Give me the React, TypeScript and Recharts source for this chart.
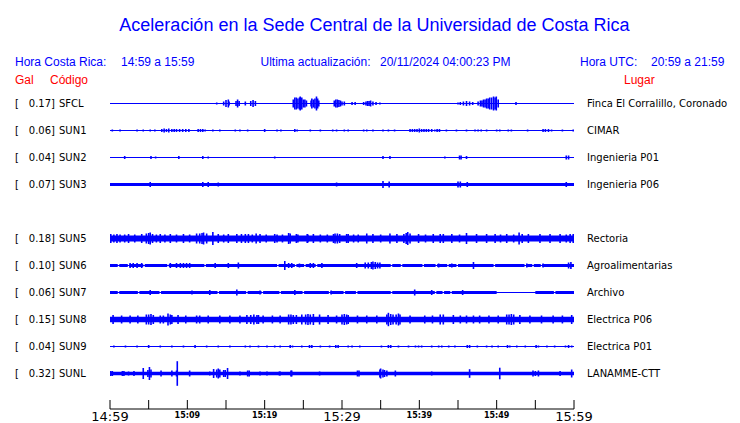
import React from "react";
import { ComposedChart, Area, Scatter, ErrorBar, XAxis, YAxis } from "recharts";

// stations, top to bottom (slot 4 = SUN4 is empty)
const codes = ["SFCL", "SUN1", "SUN2", "SUN3", "SUN5", "SUN6", "SUN7", "SUN8", "SUN9", "SUNL"];
const slots = [0, 1, 2, 3, 5, 6, 7, 8, 9, 10];
const gal = [0.17, 0.06, 0.04, 0.07, 0.18, 0.1, 0.06, 0.15, 0.04, 0.32];
const places = [
  "Finca El Corralillo, Coronado",
  "CIMAR",
  "Ingenieria P01",
  "Ingenieria P06",
  "Rectoria",
  "Agroalimentarias",
  "Archivo",
  "Electrica P06",
  "Electrica P01",
  "LANAMME-CTT",
];
// background noise half-amplitude of each trace
const noise = [0.5, 0.5, 0.5, 1.5, 3, 1.5, 1.5, 2.8, 0.5, 1.8];

// time axis: minutes after 14:59
const minuteTicks = [0, 5, 10, 15, 20, 25, 30, 35, 40, 45, 50, 55, 60];
const tickLabels = ["14:59", "15:09", "15:19", "15:29", "15:39", "15:49", "15:59"];
const bigLabels = ["14:59", "15:29", "15:59"];

// [minute, half amplitude]
const spikesSFCL = [
  [13.8, 1], [14.7, 2], [15.0, 3.5], [15.3, 4], [15.4, 2],
  [16.3, 2.5], [16.5, 4], [16.7, 2.5], [17.5, 2],
  [18.2, 2.5], [18.5, 3.5], [18.8, 2.5],
  [23.7, 4], [23.9, 6], [24.1, 6], [24.3, 5], [24.5, 6], [24.6, 7], [24.8, 6], [25.0, 4], [25.2, 4], [25.4, 3],
  [26.0, 3], [26.1, 5], [26.3, 4], [26.5, 5], [26.7, 7], [26.85, 5], [27.0, 3],
  [29.0, 3], [29.2, 4], [29.4, 4], [29.6, 3.5], [29.8, 3], [30.0, 2], [30.3, 2],
  [31.3, 1.5], [31.7, 1.5],
  [32.8, 1.5], [33.1, 2], [33.3, 2.5], [33.5, 2.5], [33.7, 3], [34.0, 2], [34.4, 1.5], [34.9, 1],
  [45.0, 1], [45.3, 1.5], [45.7, 2], [46.1, 2.5], [46.5, 2], [46.9, 1.5],
  [47.6, 2], [47.9, 3], [48.1, 3], [48.3, 4], [48.5, 4], [48.7, 5], [48.9, 5], [49.1, 6], [49.35, 6],
  [49.6, 7], [49.8, 6], [49.95, 7], [50.2, 4],
  [52.5, 1.5],
];
const spikesSUN1 = [
  [0.3, 1], [1.3, 1], [3.5, 1], [4.3, 1], [5.2, 1], [5.8, 1],
  [6.7, 1.5], [7.0, 2], [7.3, 1.5], [7.6, 2], [8.0, 1.5], [8.3, 1.5], [8.6, 1.5], [9.0, 1.5], [9.4, 1.5], [9.8, 1.5], [10.2, 1.5],
  [11.4, 1.5], [11.7, 1.5], [12.0, 1.5], [12.3, 1],
  [13.3, 1], [14.2, 1], [16.2, 1], [16.8, 1], [17.8, 1],
  [20.0, 1.5], [21.6, 1], [22.1, 1], [23.9, 1.5], [24.2, 1], [25.9, 1], [27.2, 1], [28.8, 1], [29.3, 1], [30.3, 1], [30.8, 1],
  [32.8, 1], [33.2, 1], [34.0, 1], [35.3, 1], [36.0, 1], [36.8, 1],
  [38.8, 1.5], [39.1, 1.5], [39.4, 1.5], [39.7, 1.5], [40.0, 2], [40.3, 1.5], [40.6, 1.5], [40.9, 1.5],
  [41.2, 1.5], [41.6, 1.5], [42.0, 1], [42.3, 1.5], [42.6, 1.5], [43.5, 1], [44.8, 1], [46.1, 1],
  [47.2, 1], [47.6, 1], [48.0, 1], [48.7, 1], [50.0, 1], [50.4, 1], [51.5, 1], [51.9, 1], [54.0, 1],
  [56.0, 1.5], [56.3, 1.5], [56.7, 1.5], [57.1, 1], [58.5, 1], [59.9, 1],
];
const spikesSUN2 = [
  [1.9, 1.5], [5.3, 1.5], [5.9, 1], [8.9, 1.5], [12.0, 1.5], [12.7, 1], [21.3, 1],
  [35.3, 1.5], [36.2, 1.5], [43.3, 1], [45.2, 2], [45.4, 2], [46.1, 1.5], [59.0, 2], [59.3, 2],
];
const spikesSUN3 = [
  [5.2, 2.5], [12.0, 2.5], [12.7, 2.5], [14.0, 2], [29.3, 2], [35.3, 3.5], [36.1, 3],
  [45.0, 3], [45.3, 3], [46.2, 2.5], [59.0, 2.5],
];
const spikesSUN5 = [
  [0.1, 4.5], [0.5, 4], [0.9, 4.5], [1.3, 4], [1.9, 4], [2.4, 4.5], [3.2, 4], [4.1, 4.5], [4.7, 5], [5.0, 5.5],
  [5.2, 6], [5.5, 4.5], [6.0, 4], [6.5, 4.5], [7.1, 4], [7.8, 4.5], [8.6, 4], [9.5, 4.5], [10.3, 4], [11.2, 5],
  [11.6, 5], [11.9, 5.5], [12.1, 6], [12.5, 5], [13.3, 6.5], [14.0, 4.5], [14.7, 4], [15.3, 4.5], [16.4, 4.5],
  [17.0, 4.5], [17.5, 4.5], [17.9, 4.5], [18.4, 4], [18.9, 5], [19.4, 4.5], [20.2, 4], [21.3, 4.5], [21.6, 4],
  [22.3, 4], [23.1, 5.5], [23.3, 5], [24.1, 4.5], [24.3, 4], [25.5, 4.5], [25.6, 4], [26.3, 4.5], [27.2, 4],
  [28.1, 4], [28.9, 4.5], [29.1, 5], [29.4, 5], [29.7, 4.5], [30.6, 4.5], [30.8, 4.5], [31.5, 4], [32.1, 4],
  [33.2, 5], [34.0, 4.5], [35.0, 4], [36.2, 5], [37.1, 4.5], [38.0, 4.5], [38.3, 5.5], [38.5, 6.5], [38.8, 5],
  [39.9, 4.5], [40.8, 4], [41.8, 4.5], [42.7, 4.5], [43.1, 4.5], [44.2, 4.5], [45.2, 4], [46.1, 5.5], [47.4, 4.5],
  [48.7, 4.5], [49.8, 4.5], [50.5, 4], [51.3, 4.5], [52.2, 4], [52.9, 6], [53.3, 4.5], [54.1, 4.5], [55.6, 4.5],
  [56.9, 4.5], [58.2, 4.5], [59.0, 4], [59.5, 4.5], [59.9, 4.5],
];
const spikesSUN6 = [
  [2.6, 2.5], [3.0, 2.5], [3.5, 2.5], [4.1, 2.5], [7.8, 2.5], [8.6, 2.5], [9.1, 2.5], [9.5, 2.5], [9.9, 2.5],
  [10.3, 2.5], [13.6, 2.5], [15.3, 2.5], [16.6, 3], [22.6, 4.5], [23.1, 2.5], [23.5, 2.5], [24.5, 2], [25.9, 2.5],
  [26.3, 2.5], [27.4, 2.5], [31.9, 2.5], [33.0, 3], [33.4, 3], [33.8, 3.5], [34.0, 4], [34.3, 3.5], [34.6, 3],
  [34.9, 3], [42.5, 2], [44.2, 2], [47.0, 3.5], [53.9, 2], [56.0, 2], [59.3, 3], [59.6, 3.5],
];
const spikesSUN7 = [
  [5.2, 2.5], [10.6, 2], [12.9, 2.5], [16.4, 3], [19.4, 2], [23.9, 2.5], [28.6, 2], [39.4, 3], [41.6, 2.5], [45.6, 2.5],
];
const spikesSUN8 = [
  [0.4, 4.5], [1.5, 4], [2.6, 4], [3.6, 4], [4.7, 5], [5.0, 5], [5.3, 5.5], [5.6, 4.5], [6.5, 4], [6.9, 4],
  [7.5, 6], [7.8, 5], [8.0, 4.5], [8.8, 4.5], [9.8, 4], [11.2, 4], [11.6, 4], [12.7, 4], [14.2, 4], [15.5, 4],
  [16.8, 4], [17.7, 4.5], [18.2, 4.5], [18.6, 5], [19.0, 4.5], [19.2, 4.5], [19.8, 4], [21.0, 4], [22.0, 4],
  [23.1, 5], [23.4, 5], [23.7, 4.5], [24.1, 4.5], [24.8, 5], [25.3, 5], [25.6, 5.5], [25.9, 5], [26.3, 5.5],
  [27.1, 5], [28.2, 4.5], [29.3, 4], [30.0, 5], [30.3, 5.5], [30.6, 5], [30.8, 4.5], [32.0, 4], [33.2, 4],
  [34.5, 4], [35.8, 5], [36.0, 6.7], [36.3, 5.5], [36.6, 5], [37.0, 5], [37.3, 6], [37.5, 5], [38.8, 4],
  [40.7, 4], [41.7, 4], [42.7, 5], [43.1, 5], [44.4, 4.5], [45.3, 4], [46.1, 4], [47.0, 4], [47.8, 4], [49.0, 4],
  [50.2, 4], [51.3, 5], [51.6, 5], [51.9, 5.5], [52.2, 5], [53.0, 4.5], [54.3, 4], [55.8, 4], [57.3, 4],
  [58.5, 4], [59.7, 4.5],
];
const spikesSUN9 = [
  [0.5, 1], [2.0, 1], [3.5, 1], [5.0, 1.5], [6.5, 1], [8.0, 1], [9.5, 1], [11.0, 1.5], [12.5, 1], [14.0, 1],
  [15.5, 1], [17.5, 1], [18.1, 1], [19.2, 1], [20.3, 1], [21.3, 1], [22.0, 1], [23.3, 1.5], [23.6, 1], [24.8, 1],
  [25.8, 1.5], [26.1, 1.5], [27.2, 1], [28.4, 1], [29.2, 1.5], [29.5, 1.5], [30.8, 1], [31.3, 1], [32.3, 1],
  [35.1, 1], [36.0, 1.5], [36.3, 1.5], [37.3, 1], [38.6, 1], [39.5, 1], [39.9, 1], [40.3, 1], [41.6, 1],
  [42.5, 1], [42.9, 1], [43.8, 1], [44.6, 1], [46.2, 1.5], [46.5, 1.5], [47.5, 1], [48.7, 1], [49.4, 1],
  [50.2, 1], [51.4, 1.5], [51.7, 1], [52.6, 1], [53.7, 1], [55.1, 1.5], [55.4, 1], [56.5, 1], [57.5, 1],
  [58.9, 1], [59.3, 1.5], [59.7, 1],
];
const spikesSUNL = [
  [0.1, 2.5], [0.3, 2.5], [1.6, 2.5], [1.8, 2.5], [2.4, 2], [3.1, 2.5], [4.3, 5.5], [4.9, 3.5], [5.1, 6.5],
  [5.3, 4], [6.6, 3], [8.0, 3], [8.6, 3], [8.7, 12.3], [10.3, 3], [12.9, 2], [13.4, 4.5], [13.8, 4], [14.0, 5],
  [14.2, 4], [14.7, 3.5], [14.9, 3.5], [15.2, 5.5], [16.8, 2], [17.8, 3], [18.0, 3], [19.4, 2], [20.3, 2],
  [21.9, 2], [22.0, 2], [23.4, 3], [23.5, 3], [27.1, 2], [32.0, 3], [32.2, 3], [34.9, 4], [35.0, 5], [35.3, 4],
  [35.5, 3.5], [35.8, 3], [36.9, 3], [41.6, 2], [46.5, 4.3], [50.4, 5.8], [54.7, 3], [55.0, 2.5], [55.4, 3],
  [58.2, 2.5], [59.7, 4],
];
const spikes = [
  spikesSFCL, spikesSUN1, spikesSUN2, spikesSUN3, spikesSUN5,
  spikesSUN6, spikesSUN7, spikesSUN8, spikesSUN9, spikesSUNL,
];

// quiet stretches [from, to] where the trace thins out
const quietSUN6 = [
  [1.0, 1.2], [2.3, 2.5], [4.3, 4.5], [7.4, 7.6], [12.2, 12.4], [21.6, 21.8], [23.9, 24.1], [25.1, 25.3],
  [26.6, 26.8], [36.3, 36.5], [37.6, 37.8], [40.4, 40.6], [42.1, 42.3], [43.6, 43.8], [44.8, 45.0],
  [49.6, 49.8], [53.6, 53.8], [54.6, 54.8], [55.7, 55.9],
];
const quietSUN7 = [
  [1.0, 1.2], [3.6, 3.8], [6.4, 6.6], [13.9, 14.1], [17.6, 17.8], [19.6, 19.8], [21.9, 22.1], [24.9, 25.1],
  [28.3, 28.5], [30.2, 30.4], [31.8, 32.0], [36.3, 36.5], [42.0, 42.2], [43.0, 43.2], [44.0, 44.2],
  [50.0, 55.0], [57.4, 57.6],
];
const quiet = [[], [], [], [], [], quietSUN6, quietSUN7, [], [], []];

const ROW = 27;
const THIN = 0.5;
const BLUE = "#0000ff";
const rowTicks = slots.map((s) => s * ROW);

const traces = codes.map((code, i) => {
  const c = slots[i] * ROW;
  const b = noise[i];
  const band = [{ t: 0, band: [c - b, c + b] }];
  quiet[i].forEach(([a, z]) => {
    band.push({ t: a, band: [c - THIN, c + THIN] });
    band.push({ t: z, band: [c - b, c + b] });
  });
  band.push({ t: 60, band: [c - b, c + b] });
  const marks = spikes[i].map(([t, a]) => ({ t, y: c, a }));
  return { code, band, marks };
});

const stationIndex = (v: number) => slots.indexOf(Math.round(v / ROW));

function StationTick({ x, y, payload }: any) {
  const i = stationIndex(payload.value);
  if (i < 0) return null;
  return (
    <g fontFamily="DejaVu Sans" fontSize={10} fill="#000">
      <text x={x - 95} y={y + 3.5}>[</text>
      <text x={x - 55} y={y + 3.5} textAnchor="end">{gal[i].toFixed(2)}]</text>
      <text x={x - 51} y={y + 3.5}>{codes[i]}</text>
    </g>
  );
}

function PlaceTick({ x, y, payload }: any) {
  const i = stationIndex(payload.value);
  if (i < 0) return null;
  return (
    <text x={x} y={y + 3.5} fontFamily="DejaVu Sans" fontSize={10} fill="#000">
      {places[i]}
    </text>
  );
}

function TimeTick({ x, y, payload }: any) {
  const m = payload.value;
  const label = m % 10 === 0 ? tickLabels[m / 10] : null;
  const big = label != null && bigLabels.includes(label);
  return (
    <g>
      <line x1={x} x2={x} y1={y - 9} y2={y} stroke="#000" />
      {label && (
        <text
          x={x}
          y={big ? y + 11.5 : y + 9}
          textAnchor="middle"
          fontFamily="DejaVu Sans"
          fontSize={big ? 13 : 8}
          fontWeight={big ? 400 : 700}
          fill="#000"
        >
          {label}
        </text>
      )}
    </g>
  );
}

const hidden = () => <g />;

export default function App() {
  return (
    <div style={{ position: "absolute", left: 0, top: 0, width: 740, height: 423, background: "#fff" }}>
      <ComposedChart width={740} height={423} margin={{ top: 88, left: 15, right: 0, bottom: 0 }}>
        <XAxis
          type="number"
          dataKey="t"
          domain={[0, 60]}
          ticks={minuteTicks}
          interval={0}
          height={14}
          allowDataOverflow
          axisLine={{ stroke: "#000" }}
          tickLine={false}
          tickSize={0}
          tickMargin={0}
          tick={<TimeTick />}
        />
        <YAxis
          yAxisId="rows"
          type="number"
          domain={[-15.5, 305.5]}
          reversed
          allowDataOverflow
          ticks={rowTicks}
          interval={0}
          width={95}
          axisLine={false}
          tickLine={false}
          tickSize={0}
          tickMargin={0}
          tick={<StationTick />}
        />
        <YAxis
          yAxisId="place"
          orientation="right"
          type="number"
          domain={[-15.5, 305.5]}
          reversed
          allowDataOverflow
          ticks={rowTicks}
          interval={0}
          width={166}
          axisLine={false}
          tickLine={false}
          tickSize={0}
          tickMargin={13}
          tick={<PlaceTick />}
        />
        {traces.map((tr) => (
          <Area
            key={"b" + tr.code}
            yAxisId="rows"
            data={tr.band}
            dataKey="band"
            type="stepAfter"
            stroke="none"
            fill={BLUE}
            fillOpacity={1}
            dot={false}
            activeDot={false}
            isAnimationActive={false}
          />
        ))}
        {traces.map((tr) => (
          <Scatter
            key={"s" + tr.code}
            yAxisId="rows"
            data={tr.marks}
            dataKey="y"
            shape={hidden}
            isAnimationActive={false}
          >
            <ErrorBar dataKey="a" direction="y" width={0} stroke={BLUE} strokeWidth={1.6} isAnimationActive={false} />
          </Scatter>
        ))}
      </ComposedChart>
      <svg
        width={740}
        height={100}
        style={{ position: "absolute", left: 0, top: 0, pointerEvents: "none" }}
        fontFamily="'Liberation Sans', Arial, sans-serif"
      >
        <text x={374.5} y={31} textAnchor="middle" fontSize={18} fill={BLUE}>
          Aceleración en la Sede Central de la Universidad de Costa Rica
        </text>
        <g fontSize={12} fill={BLUE}>
          <text x={15} y={66}>Hora Costa Rica:</text>
          <text x={121} y={66}>14:59 a 15:59</text>
          <text x={260.5} y={66}>Ultima actualización:</text>
          <text x={380} y={66}>20/11/2024 04:00:23 PM</text>
          <text x={580} y={66}>Hora UTC:</text>
          <text x={651} y={66}>20:59 a 21:59</text>
        </g>
        <g fontSize={12} fill="#ff0000">
          <text x={15} y={84}>Gal</text>
          <text x={50} y={84}>Código</text>
          <text x={624} y={84}>Lugar</text>
        </g>
      </svg>
    </div>
  );
}
